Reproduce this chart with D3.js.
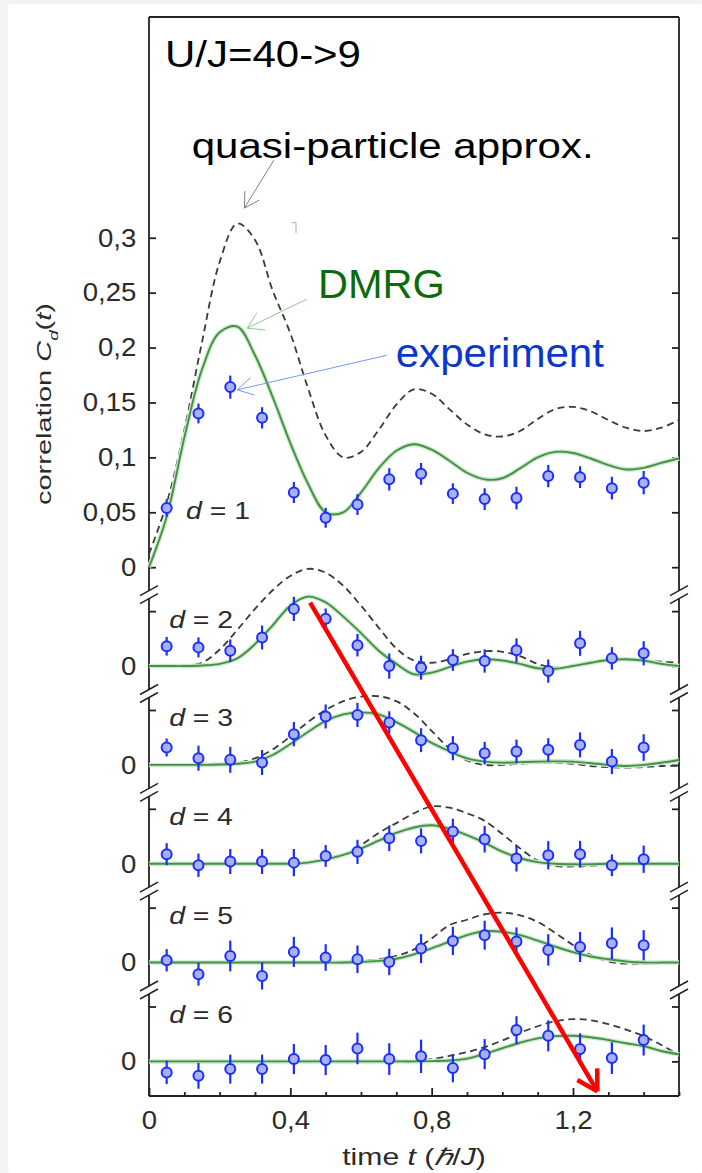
<!DOCTYPE html>
<html>
<head>
<meta charset="utf-8">
<script src="https://cdn.jsdelivr.net/npm/d3@7"></script>
<style>
  html, body { margin: 0; padding: 0; background: #f3f3f3; }
  svg { display: block; }
  text { font-family: "Liberation Sans", Arial, sans-serif; }
</style>
</head>
<body>
<div id="container"></div>
<script>
// time grid of the theory curves
const tGrid = [0, 0.05, 0.1, 0.15, 0.2, 0.25, 0.3, 0.35, 0.4, 0.45, 0.5, 0.55, 0.6, 0.65, 0.7, 0.75,
  0.8, 0.85, 0.9, 0.95, 1.0, 1.05, 1.1, 1.15, 1.2, 1.25, 1.3, 1.35, 1.4, 1.45, 1.5];

// DMRG curves (green), one per distance d
const dmrg1 = [0, 0.046, 0.118, 0.18, 0.214, 0.219, 0.193, 0.155, 0.113, 0.076, 0.05, 0.05, 0.068, 0.09, 0.106, 0.112,
  0.107, 0.097, 0.086, 0.08, 0.081, 0.09, 0.1, 0.105, 0.104, 0.099, 0.093, 0.089, 0.0905, 0.095, 0.099];
const dmrg2 = [0, 0, 0, 0.0005, 0.002, 0.007, 0.02, 0.037, 0.055, 0.0632, 0.058, 0.045, 0.03, 0.014, 0.002, -0.0075,
  -0.006, -0.001, 0.004, 0.0062, 0.005, 0.002, -0.002, -0.0025, 0, 0.003, 0.0055, 0.0062, 0.005, 0.002, 0];
const dmrg3 = [0, 0, 0, 0, 0.0003, 0.001, 0.003, 0.009, 0.019, 0.03, 0.04, 0.046, 0.0478, 0.046, 0.039, 0.03,
  0.02, 0.0125, 0.006, 0.003, 0.002, 0.0025, 0.003, 0.0032, 0.003, 0.0015, 0, -0.001, 0, 0.002, 0.0045];
const dmrg4 = [0, 0, 0, 0, 0, 0, 0, 0, 0, 0.001, 0.004, 0.008, 0.014, 0.021, 0.028, 0.033,
  0.035, 0.032, 0.026, 0.019, 0.011, 0.005, 0.0015, 0, -0.0005, -0.0005, 0, 0, 0, 0, 0];
const dmrg5 = [0, 0, 0, 0, 0, 0, 0, 0, 0, 0, 0, 0, 0.0005, 0.0015, 0.0035, 0.0075,
  0.013, 0.019, 0.025, 0.0285, 0.028, 0.025, 0.02, 0.0145, 0.0095, 0.0055, 0.003, 0.001, 0, 0, 0];
const dmrg6 = [0, 0, 0, 0, 0, 0, 0, 0, 0, 0, 0, 0, 0, 0, 0, 0,
  0.0003, 0.0008, 0.0025, 0.007, 0.012, 0.017, 0.021, 0.023, 0.0233, 0.022, 0.0195, 0.0165, 0.014, 0.0095, 0.0065];

// quasi-particle approximation (dashed)
const quasi1 = [0.012, 0.058, 0.125, 0.205, 0.278, 0.313, 0.298, 0.252, 0.213, 0.163, 0.12, 0.1, 0.105, 0.125, 0.148, 0.162,
  0.158, 0.144, 0.13, 0.121, 0.119, 0.124, 0.135, 0.144, 0.146, 0.142, 0.134, 0.127, 0.124, 0.127, 0.134];
const quasi2 = [0, 0, 0.0005, 0.003, 0.015, 0.033, 0.052, 0.069, 0.082, 0.0885, 0.085, 0.073, 0.055, 0.035, 0.016, 0.005,
  0.003, 0.006, 0.011, 0.0135, 0.013, 0.009, 0.002, -0.0015, 0, 0.003, 0.005, 0.006, 0.005, 0.004, 0.003];
const quasi3 = [0, 0, 0, 0, 0.0005, 0.002, 0.006, 0.014, 0.026, 0.039, 0.05, 0.058, 0.0622, 0.0625, 0.058, 0.047,
  0.031, 0.015, 0.004, 0, 0, 0.001, 0.002, 0.002, 0.001, -0.001, -0.002, -0.0025, -0.002, -0.001, -0.001];
const quasi4 = [0, 0, 0, 0, 0, 0, 0, 0, 0, 0.001, 0.003, 0.008, 0.017, 0.028, 0.037, 0.046,
  0.0522, 0.051, 0.046, 0.039, 0.027, 0.014, 0.003, -0.002, -0.0025, -0.002, -0.001, 0, 0, 0, 0];
const quasi5 = [0, 0, 0, 0, 0, 0, 0, 0, 0, 0, 0, 0.0005, 0.0015, 0.003, 0.006, 0.012,
  0.022, 0.034, 0.039, 0.044, 0.0455, 0.043, 0.037, 0.027, 0.016, 0.007, 0.001, -0.001, -0.001, -0.0005, 0];
const quasi6 = [0, 0, 0, 0, 0, 0, 0, 0, 0, 0, 0, 0, 0, 0, 0, 0.0005,
  0.002, 0.005, 0.0085, 0.013, 0.019, 0.026, 0.032, 0.0365, 0.0385, 0.0375, 0.034, 0.029, 0.023, 0.015, 0.006];

// experiment: times, values, error bars
const expT = [0.05, 0.14, 0.23, 0.32, 0.41, 0.5, 0.59, 0.68, 0.77, 0.86, 0.95, 1.04, 1.13, 1.22, 1.31, 1.4];
const exp1 = [0.054, 0.14, 0.164, 0.136, 0.068, 0.045, 0.057, 0.08, 0.085, 0.067, 0.062, 0.063, 0.083, 0.082, 0.072, 0.077];
const exp2 = [0.018, 0.017, 0.014, 0.026, 0.052, 0.043, 0.019, 0, -0.0015, 0.0055, 0.0046, 0.0143, -0.0046, 0.0207, 0.007, 0.0116];
const exp3 = [0.0158, 0.0061, 0.0046, 0.0022, 0.028, 0.0441, 0.0455, 0.0386, 0.0225, 0.0152, 0.0107, 0.0122, 0.0137, 0.0182, 0.003, 0.0158];
const exp4 = [0.0087, -0.0014, 0.002, 0.002, 0.001, 0.0071, 0.0108, 0.0232, 0.0208, 0.0293, 0.0223, 0.0047, 0.0077, 0.0087, -0.0014, 0.0041];
const exp5 = [0.0021, -0.0107, 0.006, -0.0122, 0.0097, 0.0046, 0.003, 0.0006, 0.0127, 0.0197, 0.0249, 0.0191, 0.0115, 0.0142, 0.0176, 0.0158];
const exp6 = [-0.01, -0.0131, -0.007, -0.007, 0.0021, 0.0012, 0.0118, 0.0021, 0.0046, -0.0061, 0.0066, 0.0285, 0.0233, 0.0112, 0.003, 0.0194];
const err1 = [0.008, 0.009, 0.0105, 0.0097, 0.0096, 0.0091, 0.0094, 0.0102, 0.0099, 0.0094, 0.0099, 0.0103, 0.0102, 0.0099, 0.0103, 0.0106];
const err2 = [0.0085, 0.0091, 0.0103, 0.0109, 0.011, 0.0094, 0.0102, 0.0115, 0.0109, 0.0099, 0.0106, 0.0109, 0.0106, 0.0114, 0.0102, 0.011];
const err3 = [0.0082, 0.0114, 0.0118, 0.0114, 0.011, 0.0109, 0.011, 0.0102, 0.0109, 0.011, 0.0103, 0.0108, 0.0106, 0.0114, 0.0114, 0.0121];
const err4 = [0.01, 0.0106, 0.0114, 0.0114, 0.0124, 0.0099, 0.011, 0.0117, 0.0114, 0.0117, 0.0121, 0.0118, 0.0129, 0.0121, 0.0099, 0.0124];
const err5 = [0.0102, 0.0103, 0.014, 0.0124, 0.0137, 0.0121, 0.0126, 0.0121, 0.0132, 0.0129, 0.0132, 0.0129, 0.0143, 0.0137, 0.0144, 0.0137];
const err6 = [0.0106, 0.0118, 0.0132, 0.0132, 0.0137, 0.0137, 0.0144, 0.0144, 0.0152, 0.0129, 0.0137, 0.0126, 0.0141, 0.0144, 0.0144, 0.0141];

// ticks
const yTicksTop = [0, 0.05, 0.1, 0.15, 0.2, 0.25, 0.3];
const yLabelsTop = ["0", "0,05", "0,1", "0,15", "0,2", "0,25", "0,3"];
const yTicksLow = [0, 0.05];
const yLabelsLow = ["0", ""];
const xTicks = [0, 0.1, 0.2, 0.3, 0.4, 0.5, 0.6, 0.7, 0.8, 0.9, 1.0, 1.1, 1.2, 1.3, 1.4, 1.5];
const xMajor = [0, 0.4, 0.8, 1.2];
const xMajorLabels = ["0", "0,4", "0,8", "1,2"];

/*==============================================
  CANVAS
===============================================*/
const W = 702, H = 1173;
const margin = { top: 17, right: 23, bottom: 77, left: 149 };
const width = W - margin.left - margin.right;
const height = H - margin.top - margin.bottom;

const svg = d3.select("#container").append("svg")
  .attr("width", W).attr("height", H);

svg.append("rect")
  .attr("x", 8).attr("y", 4).attr("rx", 3)
  .attr("width", W - 8).attr("height", H - 4)
  .attr("fill", "#fff");

const g = svg.append("g")
  .attr("transform", `translate(${margin.left},${margin.top})`);

// stretch a text horizontally so that it spans the wanted width
const fit = (sel, target, base) => {
  const w = sel.node().getBBox().width;
  sel.attr("transform", `${base} scale(${target / w},1)`);
  return sel;
};

/*==============================================
  SCALES
===============================================*/
const xScale = d3.scaleLinear().domain([0, 1.5]).range([0, width]);
const yScale = d3.scaleLinear().domain([-0.4815, 0.501]).range([height, 0]);

const panelOffsets = [0, -0.09, -0.18, -0.27, -0.36, -0.45];
const panelScale = off => d3.scaleLinear()
  .domain(yScale.domain().map(v => v - off))
  .range(yScale.range());

const panels = [
  { d: 1, exp: exp1, err: err1, dmrg: dmrg1, quasi: quasi1 },
  { d: 2, exp: exp2, err: err2, dmrg: dmrg2, quasi: quasi2 },
  { d: 3, exp: exp3, err: err3, dmrg: dmrg3, quasi: quasi3 },
  { d: 4, exp: exp4, err: err4, dmrg: dmrg4, quasi: quasi4 },
  { d: 5, exp: exp5, err: err5, dmrg: dmrg5, quasi: quasi5 },
  { d: 6, exp: exp6, err: err6, dmrg: dmrg6, quasi: quasi6 }
];
panels.forEach((p, i) => { p.y = panelScale(panelOffsets[i]); });

/*==============================================
  AXES
===============================================*/
const axisColor = "#222";

panels.forEach((p, i) => {
  const first = i === 0;
  const left = g.append("g")
    .call(d3.axisLeft(p.y)
      .tickValues(first ? yTicksTop : yTicksLow)
      .tickFormat((v, j) => (first ? yLabelsTop : yLabelsLow)[j])
      .tickSizeInner(-7).tickSizeOuter(0).tickPadding(12));
  const right = g.append("g")
    .attr("transform", `translate(${width},0)`)
    .call(d3.axisRight(p.y)
      .tickValues(first ? yTicksTop : yTicksLow)
      .tickFormat("")
      .tickSizeInner(-7).tickSizeOuter(0));
  [left, right].forEach(a => {
    a.select(".domain").remove();
    a.selectAll("line").attr("stroke", axisColor).attr("stroke-width", 1.8);
  });
  left.selectAll("text")
    .attr("font-size", 26)
    .attr("fill", "#2a2a2a")
    .attr("font-family", "'Liberation Sans', Arial, sans-serif")
    .attr("transform", "scale(1.06,1)");
});

const xAxis = g.append("g")
  .attr("transform", `translate(0,${height})`)
  .call(d3.axisBottom(xScale)
    .tickValues(xTicks)
    .tickFormat(v => {
      const j = xMajor.findIndex(m => Math.abs(m - v) < 1e-9);
      return j < 0 ? "" : xMajorLabels[j];
    })
    .tickSizeInner(-4).tickSizeOuter(0).tickPadding(15));
xAxis.select(".domain").remove();
xAxis.selectAll("line").attr("stroke", axisColor).attr("stroke-width", 1.8);
xAxis.selectAll(".tick")
  .filter(v => xMajor.some(m => Math.abs(m - v) < 1e-9))
  .select("line").attr("y2", -8);
xAxis.selectAll("text")
  .attr("font-size", 25)
  .attr("fill", "#2a2a2a")
  .attr("font-family", "'Liberation Sans', Arial, sans-serif")
  .attr("transform", "scale(1.1,1)");

/*==============================================
  FRAME WITH AXIS BREAKS
===============================================*/
const breakY = panelOffsets.slice(0, 5).map(off => yScale(off - 0.025));
const frame = g.append("g")
  .attr("stroke", axisColor).attr("stroke-width", 1.8).attr("fill", "none");
frame.append("line").attr("x1", 0).attr("x2", width).attr("y1", 0).attr("y2", 0);
frame.append("line").attr("x1", 0).attr("x2", width).attr("y1", height).attr("y2", height);
const cuts = [0, ...breakY.flatMap(b => [b - 4, b + 4]), height];
[0, width].forEach(xe => {
  for (let k = 0; k < cuts.length; k += 2) {
    frame.append("line").attr("x1", xe).attr("x2", xe).attr("y1", cuts[k]).attr("y2", cuts[k + 1]);
  }
  breakY.forEach(b => {
    [-4, 4].forEach(o => {
      frame.append("line")
        .attr("x1", xe - 9).attr("y1", b + o + 5)
        .attr("x2", xe + 9).attr("y2", b + o - 5)
        .attr("stroke-width", 1.5);
    });
  });
});

/*==============================================
  CURVES AND POINTS
===============================================*/
panels.forEach((p, i) => {
  const line = d3.line()
    .x((v, j) => xScale(tGrid[j]))
    .y(v => p.y(v))
    .curve(d3.curveCatmullRom.alpha(0.5));

  g.append("path").datum(p.quasi)
    .attr("d", line)
    .attr("fill", "none")
    .attr("stroke", "#3a3a3a")
    .attr("stroke-width", 1.8)
    .attr("stroke-dasharray", "7,4.5");

  g.append("path").datum(p.dmrg)
    .attr("d", line)
    .attr("fill", "none")
    .attr("stroke", "#cfe5cf")
    .attr("stroke-width", 4.5);
  g.append("path").datum(p.dmrg)
    .attr("d", line)
    .attr("fill", "none")
    .attr("stroke", "#3f953f")
    .attr("stroke-width", 1.9);

  const pts = g.append("g").selectAll("g")
    .data(p.exp.map((v, j) => ({ t: expT[j], v, e: p.err[j] })))
    .join("g");
  pts.append("line")
    .attr("x1", d => xScale(d.t)).attr("x2", d => xScale(d.t))
    .attr("y1", d => p.y(d.v - d.e)).attr("y2", d => p.y(d.v + d.e))
    .attr("stroke", "#1a2eff").attr("stroke-width", 2.2);
  pts.append("circle")
    .attr("cx", d => xScale(d.t)).attr("cy", d => p.y(d.v))
    .attr("r", 5)
    .attr("fill", "#a9b1f4")
    .attr("stroke", "#1a2eff").attr("stroke-width", 2);

  // d = n label
  const lx = i === 0 ? xScale(0.105) : xScale(0.057);
  const ly = i === 0 ? p.y(0.0437) : p.y(0.035);
  const lab = g.append("text")
    .attr("font-size", 23).attr("fill", "#2a2a2a");
  lab.append("tspan").attr("font-style", "italic").text("d");
  lab.append("tspan").text(` = ${p.d}`);
  fit(lab, 64, `translate(${lx},${ly})`);
});

/*==============================================
  AXIS TITLES
===============================================*/
const yTitle = svg.append("text")
  .attr("text-anchor", "middle")
  .attr("font-size", 20)
  .attr("fill", "#2a2a2a");
yTitle.append("tspan").text("correlation ");
yTitle.append("tspan").attr("font-style", "italic").text("C");
yTitle.append("tspan").attr("font-style", "italic").attr("font-size", 13).attr("baseline-shift", "sub").text("d");
yTitle.append("tspan").text("(");
yTitle.append("tspan").attr("font-style", "italic").text("t");
yTitle.append("tspan").text(")");
fit(yTitle, 202, "translate(51,404) rotate(-90)");

const xTitle = svg.append("text")
  .attr("text-anchor", "middle")
  .attr("font-size", 23)
  .attr("fill", "#2a2a2a");
xTitle.append("tspan").text("time ");
xTitle.append("tspan").attr("font-style", "italic").text("t");
xTitle.append("tspan").text(" (");
xTitle.append("tspan").attr("font-style", "italic").text("ℏ");
xTitle.append("tspan").text("/");
xTitle.append("tspan").attr("font-style", "italic").text("J");
xTitle.append("tspan").text(")");
fit(xTitle, 144, "translate(414,1165)");

/*==============================================
  ANNOTATIONS
===============================================*/
const arrow = (x1, y1, x2, y2, color, sw, len, ang) => {
  const a = g.append("g").attr("stroke", color).attr("stroke-width", sw).attr("fill", "none");
  a.append("line").attr("x1", x1).attr("y1", y1).attr("x2", x2).attr("y2", y2);
  const back = Math.atan2(y1 - y2, x1 - x2);
  [-ang, ang].forEach(da => {
    a.append("line")
      .attr("x1", x2).attr("y1", y2)
      .attr("x2", x2 + len * Math.cos(back + da))
      .attr("y2", y2 + len * Math.sin(back + da));
  });
};
const rad = Math.PI / 180;
const y1 = panels[0].y;
arrow(xScale(0.354), y1(0.371), xScale(0.27), y1(0.327), "#808080", 1, 17, 30 * rad);
arrow(xScale(0.446), y1(0.244), xScale(0.278), y1(0.2177), "#8cc88c", 1, 18, 32 * rad);
arrow(xScale(0.673), y1(0.193), xScale(0.25), y1(0.1615), "#7896f2", 1, 18, 30 * rad);
// light-cone arrow
arrow(xScale(0.456), panels[1].y(0.0577), xScale(1.269), panels[5].y(-0.0273), "#ff0000", 4.5, 23, 30 * rad);

svg.append("path")
  .attr("d", "M291.7,222.7H296V233")
  .attr("fill", "none").attr("stroke", "#aaa").attr("stroke-width", 1);

const note = (x, y, str, size, color, w) => {
  const t = svg.append("text").attr("font-size", size).attr("fill", color).text(str);
  fit(t, w, `translate(${x},${y})`);
};
note(165, 66.7, "U/J=40->9", 36, "#000", 196);
note(191.7, 158.3, "quasi-particle approx.", 35, "#000", 402);
note(318, 298.3, "DMRG", 40, "#0b6b0b", 127);
note(395.7, 367.3, "experiment", 41, "#0a37cc", 209);
</script>
</body>
</html>
